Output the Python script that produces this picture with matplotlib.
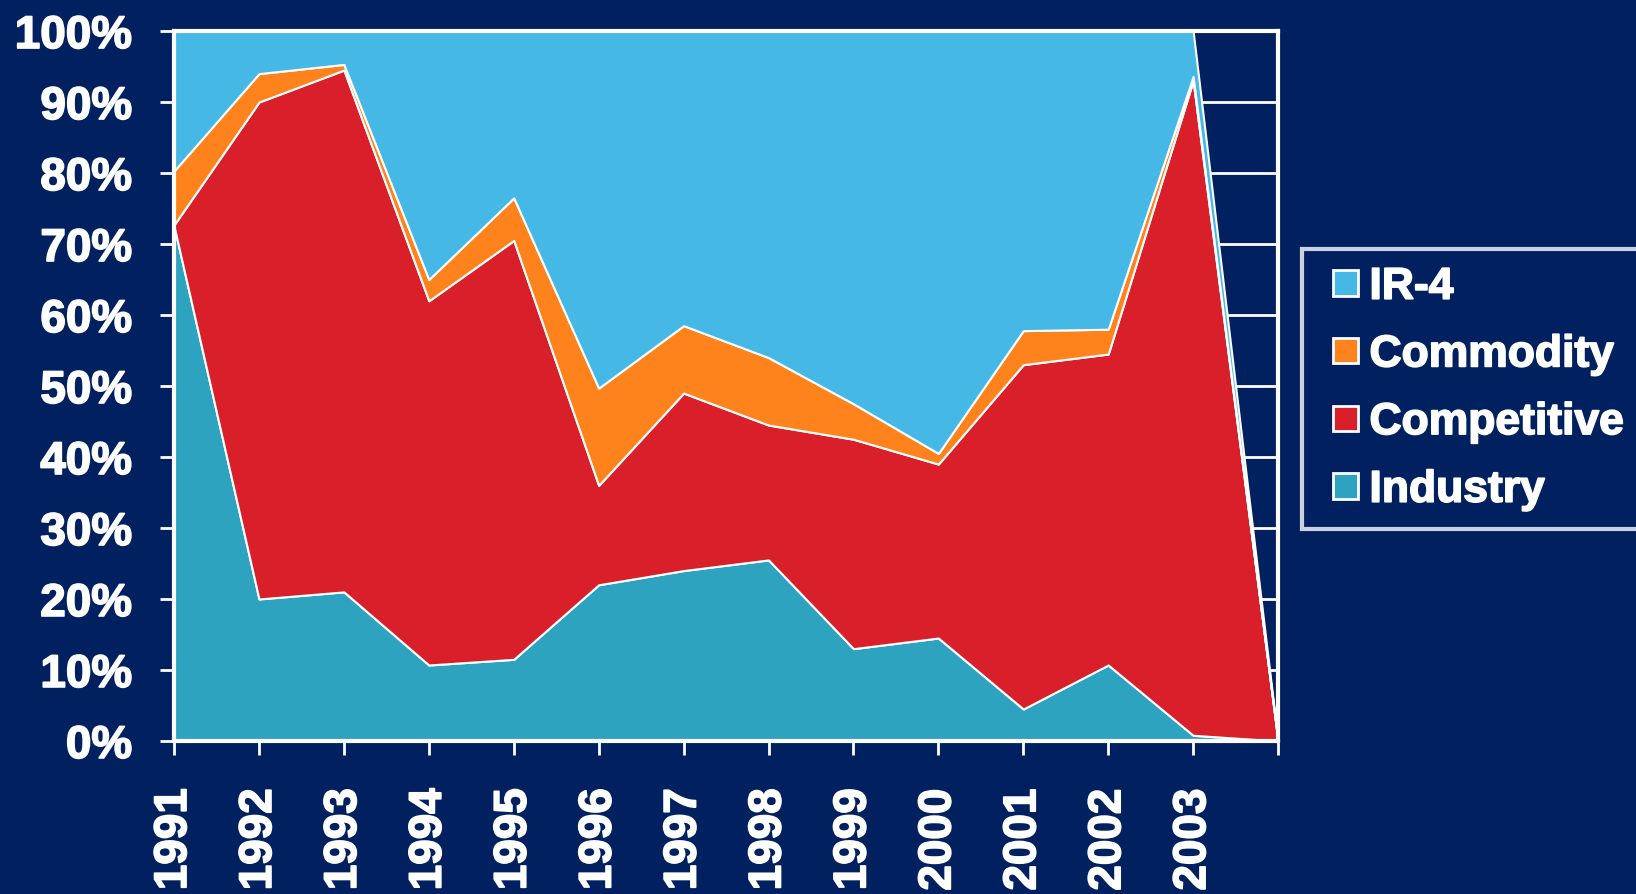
import numpy as np
import matplotlib.pyplot as plt
import matplotlib.patheffects as pe
from matplotlib.patches import Rectangle
from matplotlib.legend_handler import HandlerPatch
from matplotlib.ticker import FuncFormatter

years = ['1991', '1992', '1993', '1994', '1995', '1996', '1997',
         '1998', '1999', '2000', '2001', '2002', '2003', '']

# shares in %, last column is empty
industry    = [72.5, 20.0, 21.0, 10.7, 11.5, 22.0, 24.0, 25.5, 13.0, 14.5, 4.5, 10.7, 0.8, 0.0]
competitive = [0.2, 70.0, 73.5, 51.3, 59.0, 14.0, 25.0, 19.0, 29.5, 24.5, 48.5, 43.8, 92.2, 0.0]
commodity   = [7.6, 4.0, 0.8, 3.0, 6.0, 13.7, 9.5, 9.5, 5.0, 1.5, 4.8, 3.5, 0.6, 0.0]
ir4         = [19.7, 6.0, 4.7, 35.0, 23.5, 50.3, 41.5, 46.0, 52.5, 59.5, 42.2, 42.0, 6.4, 0.0]

names = ['Industry', 'Competitive', 'Commodity', 'IR-4']
bg = '#002060'
colors = ['#2ea3c0', '#d91f2a', '#ff831c', '#45b8e6']

plt.rcParams['font.family'] = ['Liberation Sans', 'DejaVu Sans']
plt.rcParams['font.weight'] = 'bold'

# slightly heavier text, like the original slide
heavy = [pe.withStroke(linewidth=1.2, foreground='white')]

fig = plt.figure(figsize=(16.36, 8.95), dpi=100, facecolor=bg)
ax = fig.add_axes([0.1064, 0.171, 0.6748, 0.7932], facecolor=bg)

x = np.arange(len(years))
ax.stackplot(x, industry, competitive, commodity, ir4,
             colors=colors, edgecolor='white', linewidth=1.5, zorder=2)

ax.set_xlim(0, len(years) - 1)
ax.set_ylim(0, 100)
ax.set_yticks(np.arange(0, 101, 10))
ax.yaxis.set_major_formatter(FuncFormatter(lambda v, p: f'{v:.0f}%'))
ax.set_xticks(x)
ax.set_xticklabels(years, rotation=90)

ax.grid(axis='y', color='white', linewidth=2, zorder=1)
ax.set_axisbelow(True)
for s in ax.spines.values():
    s.set_color('white')
    s.set_linewidth(3)
    s.set_zorder(3)

ax.tick_params(axis='both', colors='white', width=2, length=10,
               labelsize=33, labelcolor='white')
ax.tick_params(axis='y', pad=20)
ax.tick_params(axis='x', pad=24)
for t in ax.get_xticklabels() + ax.get_yticklabels():
    t.set_path_effects(heavy)


def square(legend, orig_handle, xdescent, ydescent, width, height, fontsize):
    sz = 0.57 * fontsize
    return Rectangle((width - sz - xdescent, -ydescent + (height - sz) / 2), sz, sz)


proxies = [Rectangle((0, 0), 1, 1, facecolor=c, edgecolor='white', linewidth=2)
           for c in colors]
leg = fig.legend(proxies[::-1], names[::-1], loc='upper left',
                 bbox_to_anchor=(0.7958, 0.0, 0.25, 0.7207), mode='expand',
                 fontsize=32, frameon=True, fancybox=False,
                 handlelength=0.87, handleheight=0.57, handletextpad=0.25,
                 labelspacing=0.6, borderpad=0.4, borderaxespad=0,
                 handler_map={Rectangle: HandlerPatch(patch_func=square)})
leg.get_frame().set_facecolor(bg)
leg.get_frame().set_edgecolor('white')
leg.get_frame().set_linewidth(3)
for t in leg.get_texts():
    t.set_color('white')
    t.set_path_effects(heavy)

fig.savefig('out.png', dpi=100, facecolor=bg)
